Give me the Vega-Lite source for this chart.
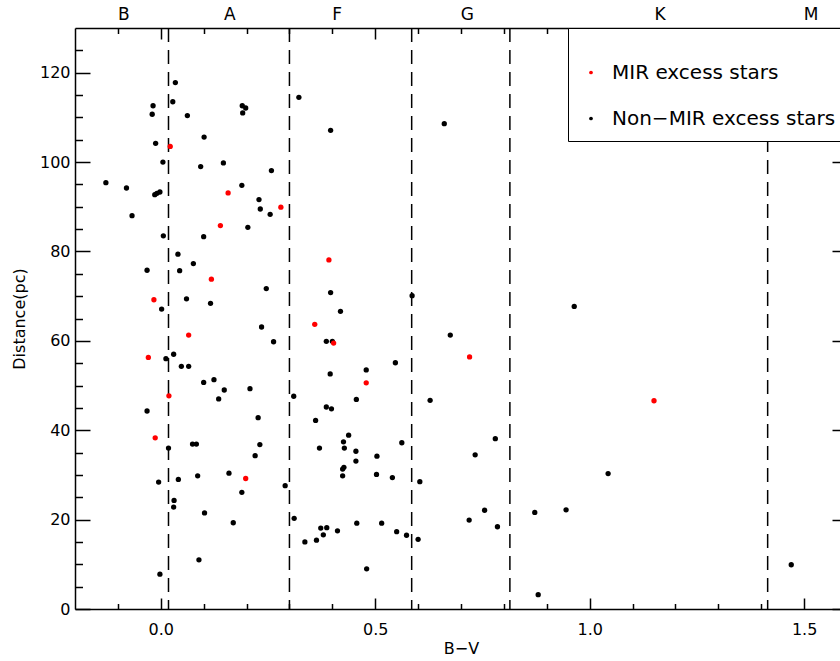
{
  "$schema": "https://vega.github.io/schema/vega-lite/v6.json",
  "width": 772,
  "height": 581,
  "autosize": {"type": "none"},
  "padding": {"left": 75, "top": 28, "right": 0, "bottom": 52},
  "background": "white",
  "config": {
    "view": {"stroke": null},
    "font": "DejaVu Sans",
    "axis": {
      "grid": false,
      "domainColor": "#000",
      "domainWidth": 1.5,
      "tickColor": "#000",
      "tickWidth": 1.5,
      "labelFont": "DejaVu Sans",
      "labelFontSize": 16,
      "labelColor": "#000",
      "titleFont": "DejaVu Sans",
      "titleFontSize": 16,
      "titleFontWeight": "normal",
      "titleColor": "#000",
      "labelFlush": false,
      "labelOverlap": false
    }
  },
  "datasets": {
    "bounds": [{"bv": 0.018}, {"bv": 0.30}, {"bv": 0.585}, {"bv": 0.814}, {"bv": 1.415}],
    "letters": [
      {"bv": -0.086, "cls": "B"}, {"bv": 0.161, "cls": "A"}, {"bv": 0.411, "cls": "F"},
      {"bv": 0.715, "cls": "G"}, {"bv": 1.164, "cls": "K"}, {"bv": 1.516, "cls": "M"}
    ],
    "stars": [
      {"bv": 0.022, "d": 103.5, "group": "MIR excess stars"},
      {"bv": 0.157, "d": 93.1, "group": "MIR excess stars"},
      {"bv": 0.280, "d": 89.9, "group": "MIR excess stars"},
      {"bv": 0.139, "d": 85.8, "group": "MIR excess stars"},
      {"bv": 0.118, "d": 73.8, "group": "MIR excess stars"},
      {"bv": -0.016, "d": 69.2, "group": "MIR excess stars"},
      {"bv": 0.065, "d": 61.3, "group": "MIR excess stars"},
      {"bv": -0.029, "d": 56.3, "group": "MIR excess stars"},
      {"bv": 0.019, "d": 47.7, "group": "MIR excess stars"},
      {"bv": -0.013, "d": 38.3, "group": "MIR excess stars"},
      {"bv": 0.198, "d": 29.2, "group": "MIR excess stars"},
      {"bv": 0.392, "d": 78.1, "group": "MIR excess stars"},
      {"bv": 0.359, "d": 63.7, "group": "MIR excess stars"},
      {"bv": 0.403, "d": 59.5, "group": "MIR excess stars"},
      {"bv": 0.479, "d": 50.6, "group": "MIR excess stars"},
      {"bv": 0.720, "d": 56.4, "group": "MIR excess stars"},
      {"bv": 1.150, "d": 46.6, "group": "MIR excess stars"},
      {"bv": 0.034, "d": 117.8, "group": "Non−MIR excess stars"},
      {"bv": 0.028, "d": 113.5, "group": "Non−MIR excess stars"},
      {"bv": -0.018, "d": 112.6, "group": "Non−MIR excess stars"},
      {"bv": -0.020, "d": 110.7, "group": "Non−MIR excess stars"},
      {"bv": 0.062, "d": 110.4, "group": "Non−MIR excess stars"},
      {"bv": 0.190, "d": 112.6, "group": "Non−MIR excess stars"},
      {"bv": 0.198, "d": 112.1, "group": "Non−MIR excess stars"},
      {"bv": 0.191, "d": 111.0, "group": "Non−MIR excess stars"},
      {"bv": 0.101, "d": 105.6, "group": "Non−MIR excess stars"},
      {"bv": -0.012, "d": 104.2, "group": "Non−MIR excess stars"},
      {"bv": 0.005, "d": 100.0, "group": "Non−MIR excess stars"},
      {"bv": 0.093, "d": 99.0, "group": "Non−MIR excess stars"},
      {"bv": 0.146, "d": 99.8, "group": "Non−MIR excess stars"},
      {"bv": 0.258, "d": 98.1, "group": "Non−MIR excess stars"},
      {"bv": -0.128, "d": 95.4, "group": "Non−MIR excess stars"},
      {"bv": -0.080, "d": 94.2, "group": "Non−MIR excess stars"},
      {"bv": 0.189, "d": 94.8, "group": "Non−MIR excess stars"},
      {"bv": -0.014, "d": 92.7, "group": "Non−MIR excess stars"},
      {"bv": -0.009, "d": 93.0, "group": "Non−MIR excess stars"},
      {"bv": -0.002, "d": 93.3, "group": "Non−MIR excess stars"},
      {"bv": -0.067, "d": 88.0, "group": "Non−MIR excess stars"},
      {"bv": 0.229, "d": 91.6, "group": "Non−MIR excess stars"},
      {"bv": 0.232, "d": 89.5, "group": "Non−MIR excess stars"},
      {"bv": 0.255, "d": 88.3, "group": "Non−MIR excess stars"},
      {"bv": 0.322, "d": 114.5, "group": "Non−MIR excess stars"},
      {"bv": 0.396, "d": 107.1, "group": "Non−MIR excess stars"},
      {"bv": 0.661, "d": 108.6, "group": "Non−MIR excess stars"},
      {"bv": 0.203, "d": 85.4, "group": "Non−MIR excess stars"},
      {"bv": 0.006, "d": 83.5, "group": "Non−MIR excess stars"},
      {"bv": 0.100, "d": 83.3, "group": "Non−MIR excess stars"},
      {"bv": 0.040, "d": 79.4, "group": "Non−MIR excess stars"},
      {"bv": 0.076, "d": 77.3, "group": "Non−MIR excess stars"},
      {"bv": -0.032, "d": 75.8, "group": "Non−MIR excess stars"},
      {"bv": 0.044, "d": 75.7, "group": "Non−MIR excess stars"},
      {"bv": 0.246, "d": 71.7, "group": "Non−MIR excess stars"},
      {"bv": 0.060, "d": 69.4, "group": "Non−MIR excess stars"},
      {"bv": 0.002, "d": 67.1, "group": "Non−MIR excess stars"},
      {"bv": 0.116, "d": 68.4, "group": "Non−MIR excess stars"},
      {"bv": 0.235, "d": 63.1, "group": "Non−MIR excess stars"},
      {"bv": 0.263, "d": 59.8, "group": "Non−MIR excess stars"},
      {"bv": 0.012, "d": 56.0, "group": "Non−MIR excess stars"},
      {"bv": 0.030, "d": 57.0, "group": "Non−MIR excess stars"},
      {"bv": 0.048, "d": 54.3, "group": "Non−MIR excess stars"},
      {"bv": 0.065, "d": 54.3, "group": "Non−MIR excess stars"},
      {"bv": 0.100, "d": 50.7, "group": "Non−MIR excess stars"},
      {"bv": 0.124, "d": 51.3, "group": "Non−MIR excess stars"},
      {"bv": 0.148, "d": 49.0, "group": "Non−MIR excess stars"},
      {"bv": 0.208, "d": 49.3, "group": "Non−MIR excess stars"},
      {"bv": 0.135, "d": 47.0, "group": "Non−MIR excess stars"},
      {"bv": 0.310, "d": 47.6, "group": "Non−MIR excess stars"},
      {"bv": -0.032, "d": 44.3, "group": "Non−MIR excess stars"},
      {"bv": 0.227, "d": 42.8, "group": "Non−MIR excess stars"},
      {"bv": 0.396, "d": 70.8, "group": "Non−MIR excess stars"},
      {"bv": 0.419, "d": 66.6, "group": "Non−MIR excess stars"},
      {"bv": 0.386, "d": 59.9, "group": "Non−MIR excess stars"},
      {"bv": 0.400, "d": 59.9, "group": "Non−MIR excess stars"},
      {"bv": 0.395, "d": 52.6, "group": "Non−MIR excess stars"},
      {"bv": 0.456, "d": 46.9, "group": "Non−MIR excess stars"},
      {"bv": 0.386, "d": 45.2, "group": "Non−MIR excess stars"},
      {"bv": 0.398, "d": 44.8, "group": "Non−MIR excess stars"},
      {"bv": 0.361, "d": 42.2, "group": "Non−MIR excess stars"},
      {"bv": 0.018, "d": 36.0, "group": "Non−MIR excess stars"},
      {"bv": 0.074, "d": 36.9, "group": "Non−MIR excess stars"},
      {"bv": 0.083, "d": 36.9, "group": "Non−MIR excess stars"},
      {"bv": 0.231, "d": 36.8, "group": "Non−MIR excess stars"},
      {"bv": 0.220, "d": 34.3, "group": "Non−MIR excess stars"},
      {"bv": -0.005, "d": 28.4, "group": "Non−MIR excess stars"},
      {"bv": 0.041, "d": 29.0, "group": "Non−MIR excess stars"},
      {"bv": 0.086, "d": 29.8, "group": "Non−MIR excess stars"},
      {"bv": 0.159, "d": 30.4, "group": "Non−MIR excess stars"},
      {"bv": 0.189, "d": 26.1, "group": "Non−MIR excess stars"},
      {"bv": 0.290, "d": 27.6, "group": "Non−MIR excess stars"},
      {"bv": 0.031, "d": 24.3, "group": "Non−MIR excess stars"},
      {"bv": 0.030, "d": 22.8, "group": "Non−MIR excess stars"},
      {"bv": 0.102, "d": 21.5, "group": "Non−MIR excess stars"},
      {"bv": 0.169, "d": 19.3, "group": "Non−MIR excess stars"},
      {"bv": 0.089, "d": 11.0, "group": "Non−MIR excess stars"},
      {"bv": -0.002, "d": 7.8, "group": "Non−MIR excess stars"},
      {"bv": 0.311, "d": 20.3, "group": "Non−MIR excess stars"},
      {"bv": 0.586, "d": 70.1, "group": "Non−MIR excess stars"},
      {"bv": 0.964, "d": 67.7, "group": "Non−MIR excess stars"},
      {"bv": 0.675, "d": 61.3, "group": "Non−MIR excess stars"},
      {"bv": 0.547, "d": 55.1, "group": "Non−MIR excess stars"},
      {"bv": 0.479, "d": 53.5, "group": "Non−MIR excess stars"},
      {"bv": 0.628, "d": 46.7, "group": "Non−MIR excess stars"},
      {"bv": 0.438, "d": 38.9, "group": "Non−MIR excess stars"},
      {"bv": 0.426, "d": 37.4, "group": "Non−MIR excess stars"},
      {"bv": 0.428, "d": 36.0, "group": "Non−MIR excess stars"},
      {"bv": 0.370, "d": 36.0, "group": "Non−MIR excess stars"},
      {"bv": 0.455, "d": 35.3, "group": "Non−MIR excess stars"},
      {"bv": 0.562, "d": 37.2, "group": "Non−MIR excess stars"},
      {"bv": 0.504, "d": 34.2, "group": "Non−MIR excess stars"},
      {"bv": 0.455, "d": 33.1, "group": "Non−MIR excess stars"},
      {"bv": 0.427, "d": 31.7, "group": "Non−MIR excess stars"},
      {"bv": 0.424, "d": 31.3, "group": "Non−MIR excess stars"},
      {"bv": 0.424, "d": 29.8, "group": "Non−MIR excess stars"},
      {"bv": 0.503, "d": 30.1, "group": "Non−MIR excess stars"},
      {"bv": 0.540, "d": 29.4, "group": "Non−MIR excess stars"},
      {"bv": 0.604, "d": 28.5, "group": "Non−MIR excess stars"},
      {"bv": 0.780, "d": 38.1, "group": "Non−MIR excess stars"},
      {"bv": 0.733, "d": 34.5, "group": "Non−MIR excess stars"},
      {"bv": 0.755, "d": 22.1, "group": "Non−MIR excess stars"},
      {"bv": 0.719, "d": 19.9, "group": "Non−MIR excess stars"},
      {"bv": 0.785, "d": 18.4, "group": "Non−MIR excess stars"},
      {"bv": 0.872, "d": 21.6, "group": "Non−MIR excess stars"},
      {"bv": 0.945, "d": 22.2, "group": "Non−MIR excess stars"},
      {"bv": 0.880, "d": 3.2, "group": "Non−MIR excess stars"},
      {"bv": 0.373, "d": 18.1, "group": "Non−MIR excess stars"},
      {"bv": 0.387, "d": 18.2, "group": "Non−MIR excess stars"},
      {"bv": 0.379, "d": 16.6, "group": "Non−MIR excess stars"},
      {"bv": 0.363, "d": 15.4, "group": "Non−MIR excess stars"},
      {"bv": 0.336, "d": 15.0, "group": "Non−MIR excess stars"},
      {"bv": 0.412, "d": 17.5, "group": "Non−MIR excess stars"},
      {"bv": 0.457, "d": 19.2, "group": "Non−MIR excess stars"},
      {"bv": 0.515, "d": 19.2, "group": "Non−MIR excess stars"},
      {"bv": 0.550, "d": 17.3, "group": "Non−MIR excess stars"},
      {"bv": 0.573, "d": 16.5, "group": "Non−MIR excess stars"},
      {"bv": 0.600, "d": 15.6, "group": "Non−MIR excess stars"},
      {"bv": 0.480, "d": 9.0, "group": "Non−MIR excess stars"},
      {"bv": 1.043, "d": 30.3, "group": "Non−MIR excess stars"},
      {"bv": 1.470, "d": 9.9, "group": "Non−MIR excess stars"}
    ]
  },
  "layer": [
    {
      "data": {"name": "bounds"},
      "mark": {"type": "rule", "strokeDash": [14, 8], "strokeWidth": 1.5, "color": "#000"},
      "encoding": {
        "x": {"field": "bv", "type": "quantitative", "scale": {"domain": [-0.2, 1.6], "nice": false, "zero": false}, "axis": null}
      }
    },
    {
      "data": {"name": "stars"},
      "transform": [{"filter": "datum.group != 'MIR excess stars'"}],
      "mark": {"type": "point", "filled": true, "size": 28, "opacity": 1},
      "encoding": {
        "x": {
          "field": "bv", "type": "quantitative",
          "scale": {"domain": [-0.2, 1.6], "nice": false, "zero": false},
          "axis": {
            "orient": "bottom",
            "values": [-0.1, 0, 0.1, 0.2, 0.3, 0.4, 0.5, 0.6, 0.7, 0.8, 0.9, 1.0, 1.1, 1.2, 1.3, 1.4, 1.5],
            "labelExpr": "abs(round(datum.value*10)) % 5 == 0 ? format(datum.value, '.1f') : ''",
            "tickSize": {"condition": {"test": "abs(round(datum.value*10)) % 5 == 0", "value": -11}, "value": -5.5},
            "labelPadding": 23,
            "title": "B−V",
            "titleX": 386,
            "titleY": 39,
            "titleAlign": "center",
            "titleBaseline": "middle"
          }
        },
        "y": {
          "field": "d", "type": "quantitative",
          "scale": {"domain": [0, 130], "nice": false, "zero": false},
          "axis": {
            "orient": "left",
            "values": [0, 5, 10, 15, 20, 25, 30, 35, 40, 45, 50, 55, 60, 65, 70, 75, 80, 85, 90, 95, 100, 105, 110, 115, 120, 125],
            "labelExpr": "datum.value % 20 == 0 ? datum.label : ''",
            "tickSize": {"condition": {"test": "datum.value % 20 == 0", "value": -15}, "value": -7.5},
            "labelPadding": 20,
            "title": "Distance(pc)",
            "titleX": -56,
            "titleY": 290.5,
            "titleAngle": -90,
            "titleAlign": "center",
            "titleBaseline": "middle"
          }
        },
        "color": {
          "field": "group", "type": "nominal",
          "scale": {"domain": ["MIR excess stars", "Non−MIR excess stars"], "range": ["#ff0000", "#000000"]},
          "legend": {
            "orient": "none", "legendX": 493, "legendY": 0,
            "title": " ", "titleFontSize": 12, "titlePadding": 10,
            "padding": 12.5, "strokeColor": "#000", "fillColor": "#fff",
            "symbolType": "circle", "symbolSize": 14, "symbolOffset": 0.5,
            "labelOffset": 11, "labelFont": "DejaVu Sans", "labelFontSize": 20, "labelLimit": 400,
            "rowPadding": 26,
            "encode": {"labels": {"update": {"fill": {"signal": "datum.label == 'MIR excess stars' ? '#ff0000' : '#000000'"}}}}
          }
        }
      }
    },
    {
      "data": {"name": "stars"},
      "transform": [{"filter": "datum.group == 'MIR excess stars'"}],
      "mark": {"type": "point", "filled": true, "size": 28, "opacity": 1},
      "encoding": {
        "x": {
          "field": "bv", "type": "quantitative",
          "scale": {"domain": [-0.2, 1.6], "nice": false, "zero": false},
          "axis": {
            "orient": "top",
            "values": [-0.1, 0, 0.1, 0.2, 0.3, 0.4, 0.5, 0.6, 0.7, 0.8, 0.9, 1.0, 1.1, 1.2, 1.3, 1.4, 1.5],
            "labels": false,
            "tickSize": {"condition": {"test": "abs(round(datum.value*10)) % 5 == 0", "value": -11}, "value": -5.5},
            "title": null
          }
        },
        "y": {
          "field": "d", "type": "quantitative",
          "scale": {"domain": [0, 130], "nice": false, "zero": false},
          "axis": {
            "orient": "right",
            "values": [0, 5, 10, 15, 20, 25, 30, 35, 40, 45, 50, 55, 60, 65, 70, 75, 80, 85, 90, 95, 100, 105, 110, 115, 120, 125],
            "labels": false,
            "tickSize": {"condition": {"test": "datum.value % 20 == 0", "value": -15}, "value": -7.5},
            "title": null
          }
        },
        "color": {
          "field": "group", "type": "nominal",
          "scale": {"domain": ["MIR excess stars", "Non−MIR excess stars"], "range": ["#ff0000", "#000000"]}
        }
      }
    },
    {
      "data": {"name": "letters"},
      "mark": {"type": "text", "fontSize": 17, "font": "DejaVu Sans", "baseline": "middle", "align": "center", "color": "#000"},
      "encoding": {
        "x": {"field": "bv", "type": "quantitative", "scale": {"domain": [-0.2, 1.6], "nice": false, "zero": false}, "axis": null},
        "y": {"datum": 133, "type": "quantitative", "scale": {"domain": [0, 130], "nice": false, "zero": false}, "axis": null},
        "text": {"field": "cls"}
      }
    }
  ],
  "resolve": {"scale": {"x": "shared", "y": "shared", "color": "shared"}, "axis": {"x": "independent", "y": "independent"}}
}
